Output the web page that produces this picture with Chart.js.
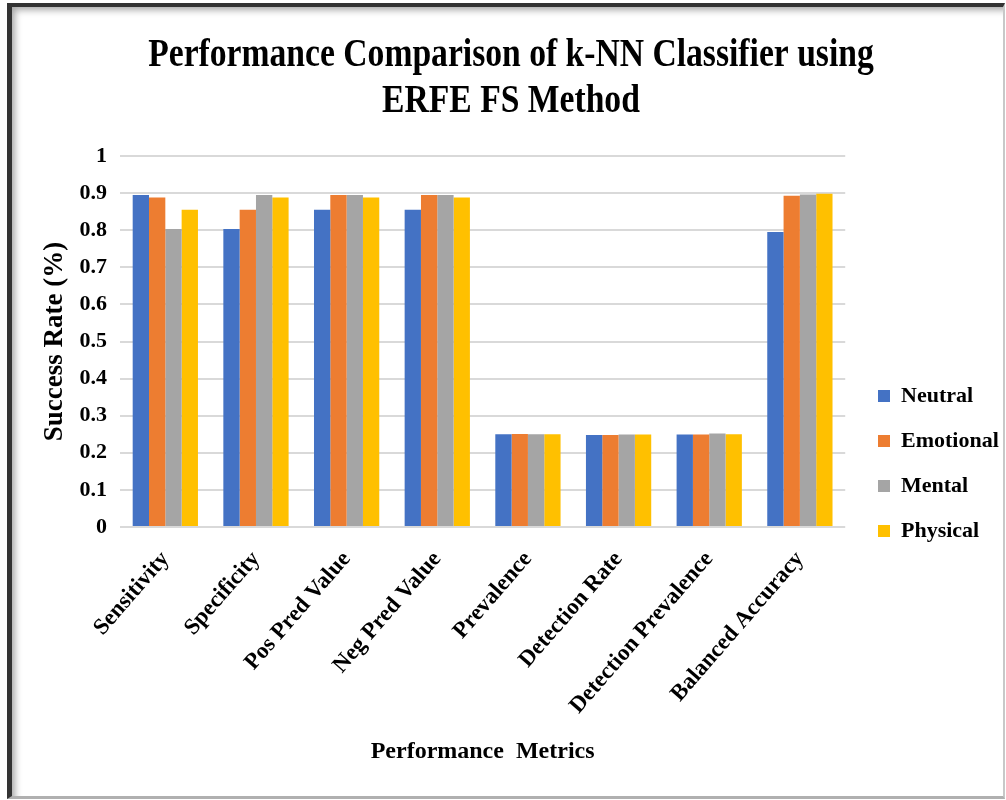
<!DOCTYPE html>
<html>
<head>
<meta charset="utf-8">
<script src="https://cdn.jsdelivr.net/npm/chart.js@4.4.1/dist/chart.umd.min.js"></script>
<style>
  html, body { margin: 0; padding: 0; background: #ffffff; }
  #wrap { position: relative; width: 1006px; height: 800px; overflow: hidden; background: #ffffff; }
  #frame {
    position: absolute; left: 7px; top: 3px; width: 991px; height: 789px;
    border-left: 5px solid #333333; border-top: 4px solid #333333;
    border-right: 2px solid #c8c8c8; border-bottom: 3px solid #b0b0b0;
    box-shadow: inset 6px 6px 7px -3px rgba(0,0,0,0.35);
    background: #ffffff;
  }
  #c { position: absolute; left: 0; top: 0; }
</style>
</head>
<body>
<div id="wrap">
  <div id="frame"></div>
  <canvas id="c" width="1006" height="800"></canvas>
</div>
<script>
const titleLines = ['Performance Comparison of k-NN Classifier using', 'ERFE FS Method'];
const categories = ['Sensitivity', 'Specificity', 'Pos Pred Value', 'Neg Pred Value', 'Prevalence', 'Detection Rate', 'Detection Prevalence', 'Balanced Accuracy'];
const seriesNames = ['Neutral', 'Emotional', 'Mental', 'Physical'];
const neutral   = [0.895, 0.803, 0.855, 0.855, 0.250, 0.248, 0.249, 0.795];
const emotional = [0.888, 0.855, 0.895, 0.895, 0.251, 0.248, 0.249, 0.893];
const mental    = [0.803, 0.895, 0.895, 0.895, 0.250, 0.249, 0.252, 0.896];
const physical  = [0.855, 0.888, 0.888, 0.888, 0.250, 0.249, 0.250, 0.898];
const colors = ['#4472C4', '#ED7D31', '#A5A5A5', '#FFC000'];
const yAxisTitle = 'Success Rate (%)';
const xAxisTitle = 'Performance  Metrics';

const SERIF = '"Liberation Serif", "Times New Roman", serif';

const titlePlugin = {
  id: 'condensedTitle',
  afterDraw(chart) {
    const ctx = chart.ctx;
    ctx.save();
    ctx.fillStyle = '#000';
    ctx.font = 'bold 41px ' + SERIF;
    ctx.textAlign = 'center';
    ctx.textBaseline = 'alphabetic';
    const baselines = [66, 112];
    titleLines.forEach((t, i) => {
      ctx.save();
      ctx.translate(511, baselines[i]);
      ctx.scale(0.82, 1);
      ctx.fillText(t, 0, 0);
      ctx.restore();
    });
    ctx.restore();
  }
};

const legendNudge = {
  id: 'legendNudge',
  afterLayout(chart) {
    const lg = chart.legend;
    if (!lg) return;
    const dx = 878 - 23 - lg.left;
    const dy = 396 - 11 - 23 - lg.top;
    lg.left += dx; lg.right += dx;
    lg.top += dy; lg.bottom += dy;
  }
};

const datasets = [neutral, emotional, mental, physical].map((d, i) => ({
  label: seriesNames[i],
  data: d,
  backgroundColor: colors[i],
  borderWidth: 0,
  categoryPercentage: 0.72,
  barPercentage: 1.0
}));

new Chart(document.getElementById('c'), {
  type: 'bar',
  data: { labels: categories, datasets },
  options: {
    responsive: false,
    animation: false,
    devicePixelRatio: 1,
    layout: { padding: { top: 156, left: 18, right: 7, bottom: 30 } },
    plugins: {
      title: { display: false },
      tooltip: { enabled: false },
      legend: {
        display: true,
        position: 'right',
        align: 'start',
        labels: {
          boxWidth: 12, boxHeight: 12, padding: 23,
          color: '#000',
          font: { family: SERIF, size: 22, weight: 'bold' }
        }
      }
    },
    scales: {
      x: {
        grid: { display: false },
        border: { display: false },
        ticks: {
          autoSkip: false, maxRotation: 49, minRotation: 49, padding: 11,
          color: '#000',
          font: { family: SERIF, size: 23, weight: 'bold' }
        },
        title: {
          display: true, text: xAxisTitle, color: '#000',
          font: { family: SERIF, size: 24, weight: 'bold' },
          padding: { top: 0, bottom: 4 }
        },
        afterFit(s) { s.height = 243; }
      },
      y: {
        min: 0, max: 1,
        grid: { color: '#d9d9d9', lineWidth: 2, drawTicks: false },
        border: { display: false },
        ticks: {
          stepSize: 0.1, padding: 13, color: '#000',
          font: { family: SERIF, size: 22, weight: 'bold' },
          callback: (v) => String(Math.round(v * 10) / 10)
        },
        title: {
          display: true, text: yAxisTitle, color: '#000',
          font: { family: SERIF, size: 27, weight: 'bold' },
          padding: { top: 21, bottom: 0 }
        },
        afterFit(s) { s.width = 102; }
      }
    }
  },
  plugins: [titlePlugin, legendNudge]
});
</script>
</body>
</html>
